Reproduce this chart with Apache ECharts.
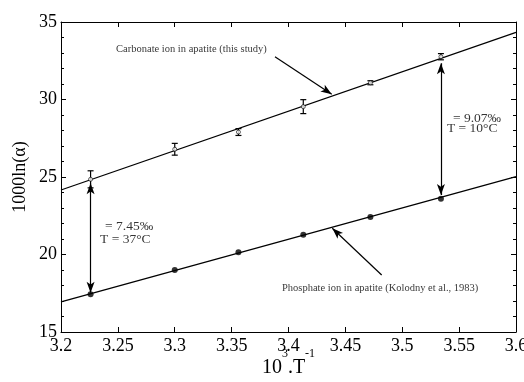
<!DOCTYPE html>
<html><head><meta charset="utf-8">
<script src="https://cdn.jsdelivr.net/npm/echarts@6/dist/echarts.min.js"></script>
<style>html,body{margin:0;padding:0;background:#fff}#c{width:524px;height:382px}</style>
</head><body><div id="c"></div>
<script>
// data
const xTicks = [3.2, 3.25, 3.3, 3.35, 3.4, 3.45, 3.5, 3.55, 3.6];
const yTicks = [15, 20, 25, 30, 35];
const carbX = [3.226, 3.300, 3.356, 3.413, 3.472, 3.534];
const carbY = [24.85, 26.79, 27.90, 29.54, 31.08, 32.76];
const carbErr = [0.55, 0.38, 0.22, 0.45, 0.13, 0.20];
const phosX = [3.226, 3.300, 3.356, 3.413, 3.472, 3.534];
const phosY = [17.43, 19.00, 20.14, 21.28, 22.42, 23.60];
const carbFitX = [3.2, 3.6];
const carbFitY = [24.16, 34.33];
const phosFitX = [3.2, 3.6];
const phosFitY = [16.94, 25.02];
// annotations (data coordinates)
const diffArrows = [[3.226, 24.59, 17.54], [3.534, 32.34, 23.84]];
const labelArrows = [[3.3881, 32.76, 3.438, 30.34], [3.4819, 18.68, 3.4385, 21.69]];
const texts = [
  [3.2484, 33.26, 'Carbonate ion in apatite (this study)', 10.5],
  [3.3943, 17.84, 'Phosphate ion in apatite (Kolodny et al., 1983)', 10.5],
  [3.2387, 21.84, '= 7.45‰', 13.5],
  [3.2343, 21.00, 'T = 37°C', 13.5],
  [3.5446, 28.80, '= 9.07‰', 13.5],
  [3.5393, 28.10, 'T = 10°C', 13.5]
];

const F = "'Liberation Serif', serif";
const chart = echarts.init(document.getElementById('c'));
const zip = (a, b) => a.map((v, i) => [v, b[i]]);

const axisCommon = {
  axisLine: {show: true, lineStyle: {color: '#000', width: 1}},
  axisTick: {show: true, inside: true, length: 5, lineStyle: {color: '#000'}},
  splitLine: {show: false}
};

chart.setOption({
  animation: false,
  grid: {left: 61, right: 8, top: 22, bottom: 50, containLabel: false, outerBoundsMode: 'none'},
  xAxis: [
    Object.assign({type: 'value', min: 3.2, max: 3.6, interval: 0.05,
      axisLabel: {fontFamily: F, fontSize: 18, color: '#000', margin: 5,
        formatter: v => { const t = xTicks.find(k => Math.abs(k - v) < 1e-6); return t === undefined ? '' : String(+t.toFixed(2)); }},
      name: '{a|10}{s|3}{a|.T}{s|-1}', nameLocation: 'middle', nameGap: 16, nameMoveOverlap: false,
      nameTextStyle: {verticalAlign: 'top', rich: {a: {fontFamily: F, fontSize: 20, color: '#000', verticalAlign: 'bottom', lineHeight: 20}, s: {fontFamily: F, fontSize: 12, color: '#000', verticalAlign: 'top', lineHeight: 30}}}
    }, axisCommon),
    Object.assign({type: 'value', min: 3.2, max: 3.6, interval: 0.05, position: 'top', axisLabel: {show: false}}, axisCommon)
  ],
  yAxis: [
    Object.assign({type: 'value', min: 15, max: 35, interval: 5,
      minorTick: {show: true, splitNumber: 5, length: 3, lineStyle: {color: '#000'}},
      axisLabel: {fontFamily: F, fontSize: 18, color: '#000', margin: 4,
        formatter: v => { const t = yTicks.find(k => Math.abs(k - v) < 1e-6); return t === undefined ? '' : String(t); }},
      name: '1000ln(α)', nameLocation: 'middle', nameGap: 32, nameMoveOverlap: false,
      nameTextStyle: {fontFamily: F, fontSize: 18, color: '#000'}
    }, axisCommon),
    Object.assign({type: 'value', min: 15, max: 35, interval: 5, position: 'right',
      minorTick: {show: true, splitNumber: 5, length: 3, lineStyle: {color: '#000'}},
      axisLabel: {show: false}}, axisCommon)
  ],
  series: [
    {type: 'line', data: zip(carbFitX, carbFitY), symbol: 'none', lineStyle: {color: '#000', width: 1.2}, silent: true},
    {type: 'line', data: zip(phosFitX, phosFitY), symbol: 'none', lineStyle: {color: '#000', width: 1.2}, silent: true},
    {type: 'custom', data: carbX.map((x, i) => [x, carbY[i], carbErr[i]]),
      renderItem: (params, api) => {
        const x = api.value(0), y = api.value(1), e = api.value(2);
        const top = api.coord([x, y + e]), bot = api.coord([x, y - e]);
        const w = 3;
        const st = {stroke: '#000', lineWidth: 1.2};
        return {type: 'group', children: [
          {type: 'line', shape: {x1: top[0], y1: top[1], x2: bot[0], y2: bot[1]}, style: st},
          {type: 'line', shape: {x1: top[0] - w, y1: top[1], x2: top[0] + w, y2: top[1]}, style: st},
          {type: 'line', shape: {x1: bot[0] - w, y1: bot[1], x2: bot[0] + w, y2: bot[1]}, style: st}
        ]};
      }, z: 3},
    {type: 'scatter', data: zip(carbX, carbY), symbol: 'circle', symbolSize: 4,
      itemStyle: {color: '#fff', borderColor: '#000', borderWidth: 0.8}, z: 4},
    {type: 'scatter', data: zip(phosX, phosY), symbol: 'circle', symbolSize: 6,
      itemStyle: {color: '#000'}, z: 4},
    {type: 'scatter', data: texts.map(t => ({value: [t[0], t[1]], name: t[2], label: {fontSize: t[3]}})), symbolSize: 0, silent: true,
      label: {show: true, position: 'right', distance: 0, color: '#000', fontFamily: F,
        formatter: p => p.name},
      z: 5,
      markLine: {silent: true, symbolSize: [6, 11], animation: false,
        lineStyle: {color: '#000', width: 1.2, type: 'solid'}, label: {show: false},
        data: diffArrows.map(a => [{coord: [a[0], a[1]], symbol: 'arrow'}, {coord: [a[0], a[2]], symbol: 'arrow'}])
          .concat(labelArrows.map(a => [{coord: [a[0], a[1]], symbol: 'none'}, {coord: [a[2], a[3]], symbol: 'arrow'}]))
      }
    }
  ]
});
</script></body></html>
